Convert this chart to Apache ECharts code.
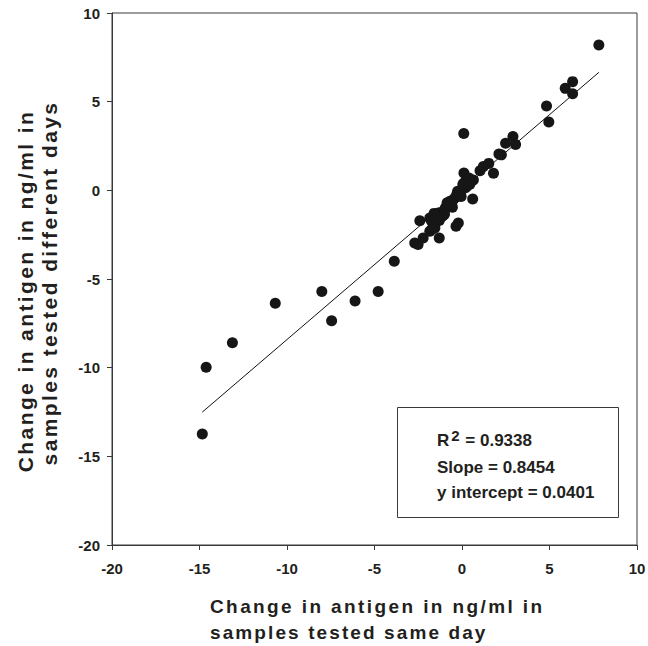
<!DOCTYPE html>
<html>
<head>
<meta charset="utf-8">
<script src="https://cdn.jsdelivr.net/npm/echarts@6/dist/echarts.min.js"></script>
<style>
html,body{margin:0;padding:0;background:#fff;}
#c{width:648px;height:646px;}
</style>
</head>
<body>
<div id="c"></div>
<script>
// Change in antigen (ng/ml), samples tested same day (x)
const sameDay = [
  -14.84, -14.62, -13.12, -10.67, -8.01, -7.45, -6.11, -4.79, -3.87, -2.70,
  -2.51, -2.22, -2.41, -1.84, -1.74, -1.55, -1.74, -1.84, -1.55, -1.30,
  -1.36, -1.15, -0.98, -0.95, -0.79, -0.69, -0.59, -0.50, -0.40, -0.30,
  -0.20, -0.11, 0.00, 0.08, 0.20, 0.36, 0.50, 0.65, 0.11, 0.10,
  0.61, -0.21, -0.34, 1.03, 1.22, 1.53, 1.80, 2.11, 2.25, 2.49,
  2.91, 3.06, 4.83, 4.96, 5.90, 6.32, 6.32, 7.82, -0.85, -0.55,
  -1.10, 0.30, -0.05, 0.15, -1.45, -1.00, 0.40, -1.20, -0.70, -0.25,
  0.05, 0.45, -1.60, -1.30
];
// Change in antigen (ng/ml), samples tested different days (y)
const differentDays = [
  -13.74, -9.98, -8.59, -6.37, -5.71, -7.35, -6.24, -5.71, -4.00, -2.97,
  -3.06, -2.69, -1.71, -1.56, -1.75, -1.93, -2.22, -2.31, -2.12, -2.69,
  -1.28, -1.22, -1.09, -0.98, -0.90, -0.62, -0.81, -0.53, -0.42, -0.24,
  -0.30, -0.06, 0.05, 0.23, 0.15, 0.41, 0.50, 0.58, 0.98, 3.20,
  -0.49, -1.84, -2.03, 1.11, 1.35, 1.52, 0.96, 2.05, 2.00, 2.65,
  3.03, 2.58, 4.75, 3.85, 5.75, 6.13, 5.45, 8.19, -0.70, -0.95,
  -1.45, 0.25, -0.35, 0.45, -1.60, -1.35, 0.70, -1.50, -0.75, -0.05,
  0.35, 0.35, -1.30, -1.70
];
const xTicks = [-20, -15, -10, -5, 0, 5, 10];
const yTicks = [-20, -15, -10, -5, 0, 5, 10];
const rSquared = '0.9338';
const slope = 0.8454;
const intercept = 0.0401;

const xTitle = ['Change in antigen in ng/ml in', 'samples tested same day'];
const yTitle = ['Change in antigen in ng/ml in', 'samples tested different days'];
const statsLines = ['Slope = 0.8454', 'y intercept = 0.0401'];

const points = sameDay.map((x, i) => [x, differentDays[i]]);
const xMin = Math.min(...sameDay), xMax = Math.max(...sameDay);
const fitLine = [[xMin, slope * xMin + intercept], [xMax, slope * xMax + intercept]];

const FONT = 'Liberation Sans, Arial, sans-serif';
const TXT = '#231f20';
const AX = '#3a3a3a';

const chart = echarts.init(document.getElementById('c'), null, {renderer: 'svg'});
const axisCommon = {
  axisLine: {show: true, onZero: false, lineStyle: {color: AX, width: 1}},
  axisTick: {show: true, inside: false, length: 5, lineStyle: {color: AX, width: 1}},
  splitLine: {show: false},
  axisLabel: {fontSize: 15, fontWeight: 'bold', color: TXT, fontFamily: FONT}
};
chart.setOption({
  animation: false,
  grid: {left: 112, right: 11, top: 13, bottom: 101, show: true, borderColor: AX, borderWidth: 1, backgroundColor: 'transparent', outerBoundsMode: 'none'},
  xAxis: Object.assign({type: 'value', min: xTicks[0], max: xTicks[xTicks.length - 1], interval: xTicks[1] - xTicks[0]}, axisCommon,
    {axisLabel: Object.assign({}, axisCommon.axisLabel, {margin: 16})}),
  yAxis: Object.assign({type: 'value', min: yTicks[0], max: yTicks[yTicks.length - 1], interval: yTicks[1] - yTicks[0]}, axisCommon,
    {axisLabel: Object.assign({}, axisCommon.axisLabel, {margin: 12})}),
  series: [
    {type: 'line', data: fitLine, showSymbol: false, symbol: 'none', lineStyle: {color: '#111', width: 1}, z: 2, silent: true},
    {type: 'scatter', data: points, symbol: 'circle', symbolSize: 11, itemStyle: {color: '#161616', opacity: 1}, z: 3}
  ],
  graphic: [
    {type: 'text', x: 210, y: 606, style: {text: xTitle[0], font: 'bold 19px ' + FONT, fill: TXT, textAlign: 'left', textVerticalAlign: 'middle'}},
    {type: 'text', x: 210, y: 632, style: {text: xTitle[1], font: 'bold 19px ' + FONT, fill: TXT, textAlign: 'left', textVerticalAlign: 'middle'}},
    {type: 'text', x: 25, y: 291, rotation: Math.PI / 2, style: {text: yTitle[0], font: 'bold 21px ' + FONT, fill: TXT, textAlign: 'center', textVerticalAlign: 'middle'}},
    {type: 'text', x: 49, y: 283, rotation: Math.PI / 2, style: {text: yTitle[1], font: 'bold 21px ' + FONT, fill: TXT, textAlign: 'center', textVerticalAlign: 'middle'}},
    {type: 'rect', shape: {x: 397.5, y: 407.5, width: 221, height: 110}, style: {fill: '#fff', stroke: AX, lineWidth: 1}, z: 10},
    {type: 'text', x: 437, y: 440, z: 11, style: {
      text: '{a|R}{s|2}{a| = ' + rSquared + '}',
      rich: {a: {font: 'bold 17px ' + FONT, fill: TXT}, s: {font: 'bold 15px ' + FONT, fill: TXT, verticalAlign: 'top', padding: [0, 1, 9, 2]}},
      textAlign: 'left', textVerticalAlign: 'middle'}},
    {type: 'text', x: 437, y: 467, z: 11, style: {text: statsLines[0], font: 'bold 17px ' + FONT, fill: TXT, textAlign: 'left', textVerticalAlign: 'middle'}},
    {type: 'text', x: 437, y: 492, z: 11, style: {text: statsLines[1], font: 'bold 17px ' + FONT, fill: TXT, textAlign: 'left', textVerticalAlign: 'middle'}}
  ]
});

const spacing = {};
xTitle.forEach(t => spacing[t] = 2.1);
yTitle.forEach(t => spacing[t] = 2.4);
function applySpacing() {
  document.querySelectorAll('#c svg text').forEach(el => {
    const s = el.textContent;
    if (spacing[s] != null) el.style.letterSpacing = spacing[s] + 'px';
  });
}
applySpacing();
chart.on('finished', applySpacing);
</script>
</body>
</html>
